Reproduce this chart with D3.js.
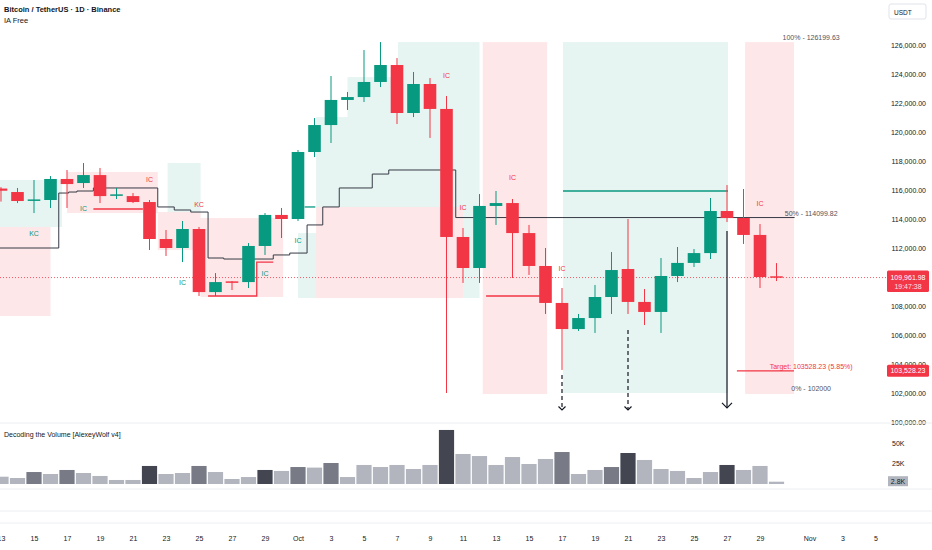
<html>
<head>
<meta charset="utf-8"/>
<script src="https://cdn.jsdelivr.net/npm/d3@7"></script>
<style>
body{margin:0;background:#fff;}
text{font-family:"Liberation Sans",Arial,sans-serif;}
</style>
</head>
<body>
<script>
// day index: 0 = Oct 1 2025
var days   = [-18,-17,-16,-15,-14,-13,-12,-11,-10,-9,-8,-7,-6,-5,-4,-3,-2,-1,0,1,2,3,4,5,6,7,8,9,10,11,12,13,14,15,16,17,18,19,20,21,22,23,24,25,26,27,28,29];
var opens  = [116100,115860,115270,115310,116760,116480,117030,115600,115580,115170,112620,112000,113310,108960,109700,109650,112140,114280,114000,118620,120480,122210,122410,123450,124620,121310,123310,121590,112760,110620,114900,115100,113030,110760,108210,106410,107170,108620,110550,108280,107590,110070,110970,111650,114550,114070,112900,110050];
var highs  = [116200,116140,116690,116960,117380,117860,117520,116140,115790,115310,113240,113860,113450,110270,109720,112340,114410,114760,118760,120960,123860,122760,125650,126199.63,125100,124140,123720,122480,113380,115720,115930,115380,113590,112000,109240,107450,109450,111720,114000,109170,111310,112070,111930,115450,116340,116070,113650,110960];
var lows   = [115200,115100,114410,114760,114760,116140,115100,115380,115100,111860,111450,111030,108690,108690,109100,109240,111520,112690,113860,118270,119240,121520,122070,123100,120550,121030,119590,102000,109590,109590,113590,109930,110140,107450,103590,106280,106140,107450,107450,106690,106140,109650,110690,111240,113790,112280,109240,109720];
var closes = [115950,115240,115350,116760,116410,117030,115580,115700,115170,112620,112000,113310,108960,109650,109650,112140,114280,114000,118620,120480,122210,122410,123450,124620,121310,123310,121590,112760,110620,114900,115100,113030,110760,108210,106410,107170,108620,110480,108280,107590,110070,110970,111650,114550,114070,112900,110000,109961.98];

var volumes = [8900,7300,14600,12200,17100,13400,9800,4900,4900,22000,12200,13400,22000,14600,6100,8500,17100,15900,20700,20000,25600,8500,23200,20700,23200,18300,23200,65900,36600,34100,23200,32900,24400,30500,39000,12200,17100,20700,37800,29300,18300,15900,7300,14600,23200,17100,22000,2800];
var volTier = ["l","l","m","l","m","l","l","l","l","d","l","l","m","l","l","l","d","l","m","l","m","l","l","l","l","l","l","d","l","l","l","l","l","l","m","l","l","m","d","l","l","l","l","l","d","l","l","l"];

var priceTicks = [100000,102000,104000,106000,108000,110000,112000,114000,116000,118000,120000,122000,124000,126000];
var xTickDays   = [-18,-16,-14,-12,-10,-8,-6,-4,-2,0,2,4,6,8,10,12,14,16,18,20,22,24,26,28,31,33,35];
var xTickLabels = ["13","15","17","19","21","23","25","27","29","Oct","3","5","7","9","11","13","15","17","19","21","23","25","27","29","Nov","3","5"];

// zones: kind, from day, to day, top price, bottom price
var zones = [
 ["g",-19,-14.3,116690,113450],
 ["g",-7.9,-5.9,117860,114480],
 ["g",0,1.1,113030,108550],
 ["g",1.1,3.0,121030,114830],
 ["g",3.0,6.06,123790,114830],
 ["g",6.06,10.0,126200,114830],
 ["g",10.0,11.0,126200,108550],
 ["g",16.06,26.06,126200,102000],
 ["r",-19,-15,113450,107310],
 ["r",-14.0,-8.5,117240,114410],
 ["r",-8.5,-5.9,114480,111860],
 ["r",-5.9,-0.9,114070,108620],
 ["r",1.1,10.0,114830,108550],
 ["r",11.2,15.1,126200,101930],
 ["r",27.1,30.06,126200,101930]
];

var stepPts = [[-19,112000],[-14.5,115790],[-13.9,115860],[-13.4,115930],[-12.4,116140],[-8.5,114830],[-7.5,114620],[-6.5,114480],[-5.45,111310],[-4.5,111240],[-1.5,111520],[-0.5,111650],[0.55,113590],[1.5,114830],[2.5,116140],[4.5,117100],[5.5,117380],[9.56,114100],[30.1,114100]];

var levelLines = [
 ["r",[[-12.4,114690],[-9.4,114690]]],
 ["r",[[-5.45,108690],[-2.5,108690],[-2.5,111030],[-1.5,111030]]],
 ["g",[[0.4,114830],[1.05,114830]]],
 ["r",[[11.4,108690],[14.7,108690]]],
 ["g",[[16.06,115930],[26.06,115930]]],
 ["r",[[26.6,103528.23],[30.06,103528.23]]]
];

var tagDays   = [-16,-13,-9,-6,-7,-2,0,9,10,13,16,28];
var tagPrices = [112970,114690,116690,114970,109650,110210,112550,123930,114760,116830,110620,115100];
var tagTexts  = ["KC","IC","IC","KC","IC","IC","IC","IC","IC","IC","IC","IC"];
var tagKinds  = ["g","g","r","r","g","g","g","r","r","r","r","r"];

var arrowDays = [16,20,26];
var arrowFrom = [103240,106340,113170];
var arrowTo   = [100830,100830,100970];
var arrowDash = [true,true,false];

var fibLevels = ["100% - 126199.63","50% - 114099.82","0% - 102000"];
var fibPrices = [126199.63,114099.82,102000];
var lastPrice = 109961.98, target = 103528.23;

var GREEN="#089981", RED="#f23645", INK="#131722";
var W=932,H=550;
var svg=d3.select("body").append("svg").attr("width",W).attr("height",H);

var x=d3.scaleLinear().domain([0,31]).range([298,809.5]);
var y=d3.scaleLinear().domain([100000,126000]).range([422,45]);
var yv=d3.scaleLinear().domain([0,50000]).range([484,443]);

svg.append("clipPath").attr("id","main").append("rect").attr("x",0).attr("y",0).attr("width",886).attr("height",423);
var plot=svg.append("g").attr("clip-path","url(#main)");

plot.selectAll("rect.zone").data(zones).enter().append("rect")
  .attr("x",function(d){return x(d[1]);})
  .attr("width",function(d){return x(d[2])-x(d[1]);})
  .attr("y",function(d){return y(d[3]);})
  .attr("height",function(d){return y(d[4])-y(d[3]);})
  .attr("fill",function(d){return d[0]=="g"?"rgba(8,153,129,0.1)":"rgba(242,54,69,0.12)";});

plot.append("line").attr("x1",0).attr("x2",886).attr("y1",y(lastPrice)).attr("y2",y(lastPrice))
  .attr("stroke",RED).attr("stroke-width",0.8).attr("stroke-dasharray","1,2");

var line=d3.line().x(function(d){return x(d[0]);}).y(function(d){return y(d[1]);});
plot.append("path").attr("d",line.curve(d3.curveStepAfter)(stepPts))
  .attr("fill","none").attr("stroke","#363a45").attr("stroke-width",1);

var line2=d3.line().x(function(d){return x(d[0]);}).y(function(d){return y(d[1]);});
plot.selectAll("path.lvl").data(levelLines).enter().append("path")
  .attr("d",function(d){return line2(d[1]);})
  .attr("fill","none").attr("stroke-width",1.3)
  .attr("stroke",function(d){return d[0]=="g"?GREEN:RED;});

// candles
var cg=plot.selectAll("g.c").data(days).enter().append("g");
cg.append("line")
  .attr("x1",function(d){return x(d);}).attr("x2",function(d){return x(d);})
  .attr("y1",function(d,i){return y(highs[i]);}).attr("y2",function(d,i){return y(lows[i]);})
  .attr("stroke",function(d,i){return closes[i]>=opens[i]?GREEN:RED;}).attr("stroke-width",1);
cg.append("rect")
  .attr("x",function(d){return x(d)-6.3;}).attr("width",12.6)
  .attr("y",function(d,i){return y(Math.max(opens[i],closes[i]));})
  .attr("height",function(d,i){return Math.max(1.5,Math.abs(y(opens[i])-y(closes[i])));})
  .attr("fill",function(d,i){return closes[i]>=opens[i]?GREEN:RED;});

plot.selectAll("text.tag").data(tagDays).enter().append("text")
  .attr("x",function(d){return x(d);}).attr("y",function(d,i){return y(tagPrices[i])+2.5;})
  .attr("text-anchor","middle").attr("font-size",7)
  .attr("fill",function(d,i){return tagKinds[i]=="g"?GREEN:RED;})
  .text(function(d,i){return tagTexts[i];});

// arrows
arrowDays.forEach(function(d,i){
  var ax=x(d), y1=y(arrowFrom[i]), y2=y(arrowTo[i]);
  plot.append("line").attr("x1",ax).attr("x2",ax).attr("y1",y1).attr("y2",y2)
    .attr("stroke",INK).attr("stroke-width",1.2)
    .attr("stroke-dasharray",arrowDash[i]?"4,3":null);
  var s=arrowDash[i]?3.5:5;
  plot.append("path").attr("d","M"+(ax-s)+","+(y2-s)+"L"+ax+","+y2+"L"+(ax+s)+","+(y2-s))
    .attr("fill","none").attr("stroke",INK).attr("stroke-width",1.2);
});

// fib labels
svg.selectAll("text.fib").data(fibLevels).enter().append("text")
  .attr("x",x(31.1)).attr("y",function(d,i){return y(fibPrices[i])-2;})
  .attr("text-anchor","middle").attr("font-size",7).attr("fill","#50535e")
  .text(function(d){return d;});
svg.append("text").attr("x",x(31.1)).attr("y",y(target)-2).attr("text-anchor","middle")
  .attr("font-size",7).attr("fill",RED).text("Target: 103528.23 (5.85%)");

// price scale
var yAxis=d3.axisLeft(y).tickValues(priceTicks).tickFormat(d3.format(",.2f")).tickSize(0).tickPadding(0);
var ya=svg.append("g").attr("transform","translate(926,0)").call(yAxis);
ya.select(".domain").remove();
ya.selectAll("text").attr("font-size",7).attr("fill",INK).attr("font-family","Liberation Sans, Arial, sans-serif");

svg.append("rect").attr("x",887).attr("y",y(lastPrice)-7).attr("width",42).attr("height",21.5).attr("rx",1.5).attr("fill",RED);
svg.append("text").attr("x",908).attr("y",y(lastPrice)+2.5).attr("text-anchor","middle").attr("font-size",7).attr("fill","#fff").text("109,961.98");
svg.append("text").attr("x",908).attr("y",y(lastPrice)+11.5).attr("text-anchor","middle").attr("font-size",7).attr("fill","#fff").attr("opacity",0.85).text("19:47:38");
svg.append("rect").attr("x",887).attr("y",y(target)-6.2).attr("width",42).attr("height",12).attr("rx",1.5).attr("fill",RED);
svg.append("text").attr("x",908).attr("y",y(target)+2.5).attr("text-anchor","middle").attr("font-size",7).attr("fill","#fff").text("103,528.23");

svg.append("rect").attr("x",889).attr("y",4).attr("width",37).attr("height",15).attr("rx",2)
  .attr("fill","#fff").attr("stroke","#e0e3eb");
svg.append("text").attr("x",894).attr("y",14.5).attr("font-size",6.5).attr("fill",INK).text("USDT");

// title
svg.append("text").attr("x",4).attr("y",12).attr("font-size",7.5).attr("fill",INK).attr("font-weight",600).text("Bitcoin / TetherUS \u00b7 1D \u00b7 Binance");
svg.append("text").attr("x",4).attr("y",23).attr("font-size",7.5).attr("fill",INK).text("IA Free");

// pane separators
[423,489,511,523].forEach(function(v){
  svg.append("line").attr("x1",0).attr("x2",W).attr("y1",v).attr("y2",v).attr("stroke","#eceef2").attr("stroke-width",1);
});

// volume pane
var tierCol={l:"#b2b5be",m:"#787b86",d:"#434651"};
svg.selectAll("rect.vol").data(volumes).enter().append("rect")
  .attr("x",function(d,i){return x(days[i])-7.6;}).attr("width",15.2)
  .attr("y",function(d){return yv(d);}).attr("height",function(d){return yv(0)-yv(d);})
  .attr("fill",function(d,i){return tierCol[volTier[i]];});
svg.append("text").attr("x",4).attr("y",437).attr("font-size",7).attr("fill",INK).text("Decoding the Volume [AlexeyWolf v4]");
var vAxis=d3.axisRight(yv).tickValues([25000,50000]).tickFormat(function(d){return (d/1000)+"K";}).tickSize(0).tickPadding(0);
var va=svg.append("g").attr("transform","translate(892,0)").call(vAxis);
va.select(".domain").remove();
va.selectAll("text").attr("font-size",7).attr("fill",INK).attr("font-family","Liberation Sans, Arial, sans-serif");
svg.append("rect").attr("x",888).attr("y",yv(2800)-5.5).attr("width",20).attr("height",10).attr("fill","#b2b5be");
svg.append("text").attr("x",898).attr("y",yv(2800)+2).attr("text-anchor","middle").attr("font-size",7).attr("fill",INK).text("2.8K");

// time axis
var xAxis=d3.axisBottom(x).tickValues(xTickDays).tickFormat(function(d,i){return xTickLabels[i];}).tickSize(0).tickPadding(3);
var xa=svg.append("g").attr("transform","translate(0,533)").call(xAxis);
xa.select(".domain").remove();
xa.selectAll("text").attr("font-size",7).attr("fill",INK).attr("font-family","Liberation Sans, Arial, sans-serif");
</script>
</body>
</html>
